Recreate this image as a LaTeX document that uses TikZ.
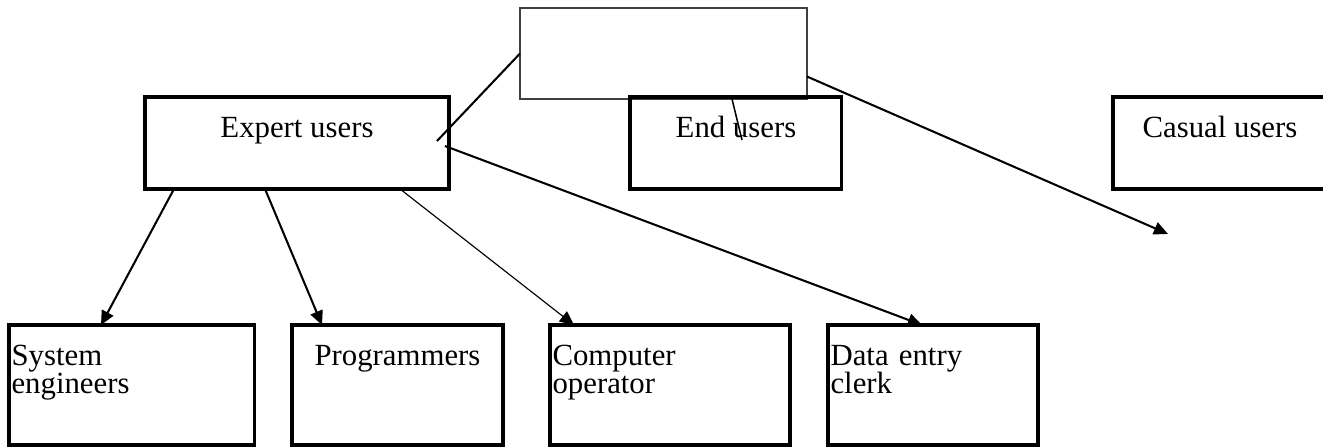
\documentclass[tikz,border=0pt]{standalone}
\usepackage{fontspec}
\setmainfont{Liberation Serif}
\usetikzlibrary{arrows.meta,calc}

\begin{document}
\begin{tikzpicture}[x=0.0137cm,y=-0.0137cm]
    \tikzstyle{block}=[draw,line width=1.2pt,anchor=north west,outer sep=0pt,inner xsep=1pt,inner ysep=0pt,
        text height=15.5pt,font=\fontsize{12}{11}\selectfont]
    \tikzstyle{upper}=[block,minimum height=1.26cm,text depth=19.5pt]
    \tikzstyle{lower}=[block,minimum height=1.644cm,text depth=31pt]
    \tikzstyle{arrow}=[line width=.8pt,-{Triangle[length=5.5pt,width=5pt]}]
    \useasboundingbox (0,0) rectangle (1323,447);

    \node[draw=black!75,line width=.6pt,anchor=north west,outer sep=0pt,minimum width=3.932cm,minimum height=1.247cm] (user_types) at (520,8) {};
    \node[upper,minimum width=4.165cm] (expert_users) at (145,97) {Expert users};
    \node[upper,minimum width=2.904cm] (end_users) at (630,97) {End users};
    \node[upper,minimum width=2.932cm] (casual_users) at (1113,97) {Casual users};

    \node[lower,minimum width=3.37cm,text width=3.37cm-2pt,align=left] (sys_eng) at (9,325) {System\\engineers};
    \node[lower,minimum width=2.891cm] (programmers) at (292,325) {Programmers};
    \node[lower,minimum width=3.288cm,text width=3.288cm-2pt,align=left] (comp_op) at (550,325) {Computer\\operator};
    \node[lower,minimum width=2.877cm,text width=2.877cm-2pt,align=left] (data_entry) at (828,325) {Data entry\\clerk};

    \draw[line width=.8pt] (user_types.west) -- ($(expert_users.north east)+(-12,44)$);
    \draw[line width=.6pt] ($(user_types.south west)+(212,0)$) -- ($(end_users.north west)+(112,43)$);
    \draw[arrow] ($(user_types.east)+(0,23)$) -- ($(casual_users.south west)+(55,45)$);

    \draw[arrow] ($(expert_users.south west)+(29,0)$) -- ($(sys_eng.north west)+(92,0)$);
    \draw[arrow] ($(expert_users.south west)+(120,0)$) -- ($(programmers.north west)+(30,0)$);
    \draw[arrow,line width=.45pt] ($(expert_users.south west)+(255,0)$) -- ($(comp_op.north west)+(24,0)$);
    \draw[arrow] ($(expert_users.north east)+(-4,49)$) -- ($(data_entry.north west)+(94,0)$);
\end{tikzpicture}
\end{document}
